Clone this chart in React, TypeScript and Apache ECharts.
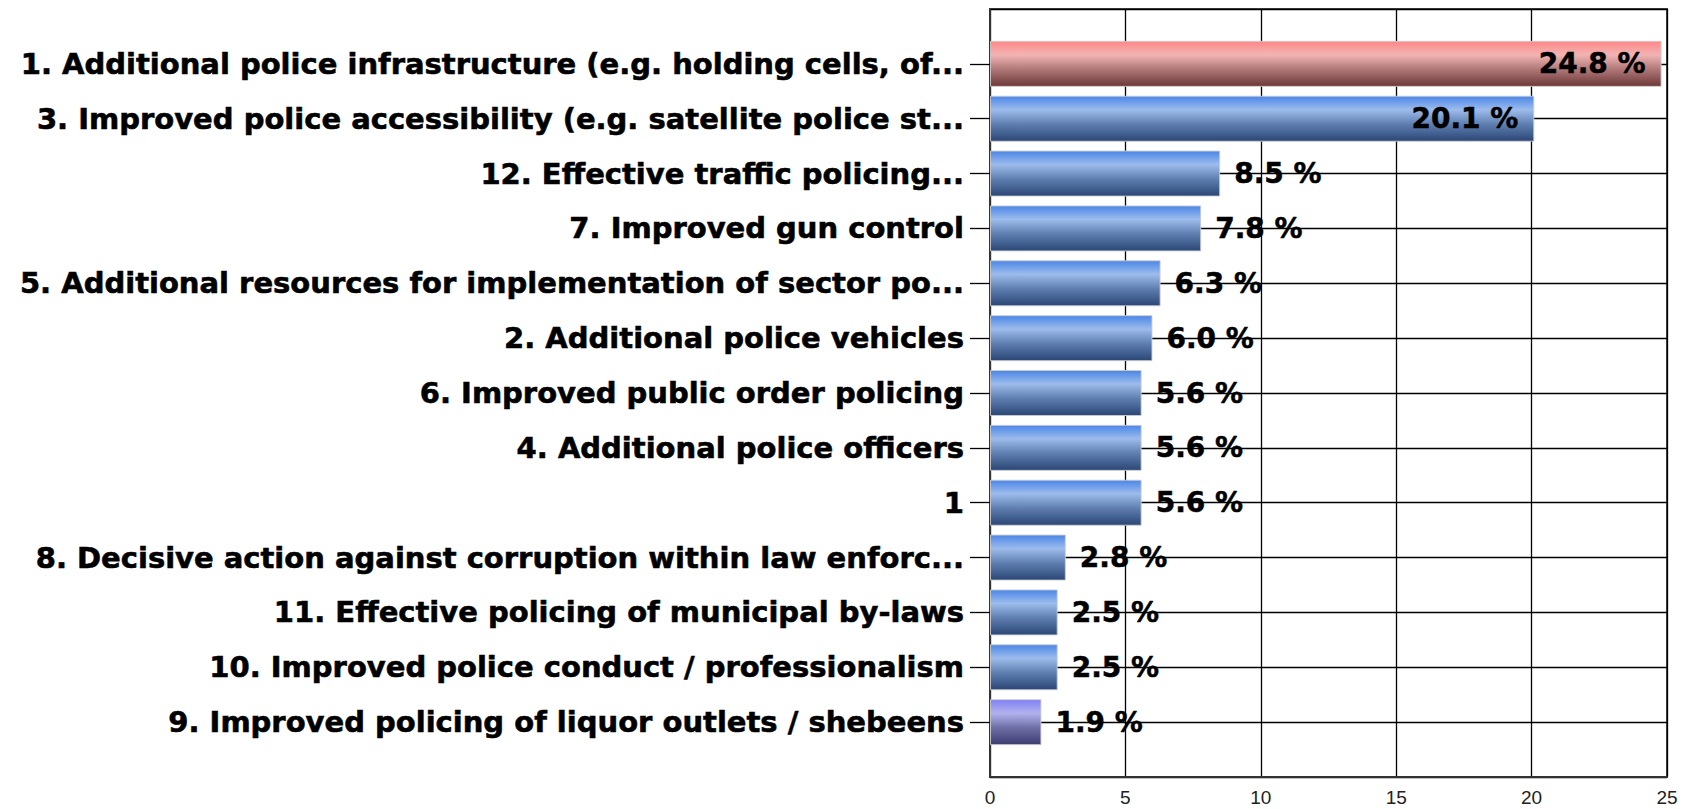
import React, { useEffect, useRef } from "react";
import * as echarts from "echarts";

const categories = [
  "1. Additional police infrastructure (e.g. holding cells, of...",
  "3. Improved police accessibility (e.g. satellite police st...",
  "12. Effective traffic policing...",
  "7. Improved gun control",
  "5. Additional resources for implementation of sector po...",
  "2. Additional police vehicles",
  "6. Improved public order policing",
  "4. Additional police officers",
  "1",
  "8. Decisive action against corruption within law enforc...",
  "11. Effective policing of municipal by-laws",
  "10. Improved police conduct / professionalism",
  "9. Improved policing of liquor outlets / shebeens",
];
const values = [24.8, 20.1, 8.5, 7.8, 6.3, 6.0, 5.6, 5.6, 5.6, 2.8, 2.5, 2.5, 1.9];
const insideLabelIdx = [0, 1];
const xMin = 0;
const xMax = 25;
const xInterval = 5;

const grad = (stops: string[]) =>
  new echarts.graphic.LinearGradient(0, 0, 0, 1, [
    { offset: 0, color: stops[0] },
    { offset: 0.3, color: stops[1] },
    { offset: 0.62, color: stops[2] },
    { offset: 1, color: stops[3] },
  ]);

const blue = ["#4a86e8", "#9dbcec", "#5f7fb0", "#2a4676"];
const red = ["#ff8888", "#f2b4b4", "#b07878", "#6e3838"];
const purple = ["#7f7ff5", "#b2b2ee", "#7070a8", "#3c3c70"];

const FONT = "'DejaVu Sans', Verdana, sans-serif";

export default function App() {
  const ref = useRef<HTMLDivElement>(null);
  useEffect(() => {
    if (!ref.current) return;
    const chart = echarts.init(ref.current, undefined, { renderer: "svg" });
    const cats = ["", ...categories, ""];
    const data: any[] = [null];
    values.forEach((v, i) => {
      const colors = i === 0 ? red : i === values.length - 1 ? purple : blue;
      const inside = insideLabelIdx.indexOf(i) >= 0;
      data.push({
        value: v,
        itemStyle: { color: grad(colors) },
        label: { position: inside ? "insideRight" : "right", distance: inside ? 16 : 14 },
      });
    });
    data.push(null);
    chart.setOption({
      animation: false,
      backgroundColor: "#ffffff",
      grid: {
        left: 990,
        right: 26,
        top: 9,
        bottom: 32,
        show: true,
        borderColor: "#444444",
        borderWidth: 2,
        containLabel: false,
      },
      xAxis: {
        type: "value",
        min: xMin,
        max: xMax,
        interval: xInterval,
        axisLine: { show: true, lineStyle: { color: "#333333", width: 2 } },
        axisTick: { show: false },
        axisLabel: {
          color: "#222222",
          fontSize: 19,
          margin: 11,
          fontFamily: "'Liberation Sans Narrow', 'Liberation Sans', Arial, sans-serif",
        },
        splitLine: { show: true, lineStyle: { color: "#000000", width: 1.3 } },
      },
      yAxis: {
        type: "category",
        data: cats,
        inverse: true,
        boundaryGap: false,
        axisLine: { show: true, lineStyle: { color: "#333333", width: 2 } },
        axisTick: {
          show: true,
          length: 20,
          interval: (idx: number, val: string) => val !== "",
          lineStyle: { color: "#000000", width: 1.3 },
        },
        axisLabel: {
          interval: 0,
          color: "#000000",
          fontSize: 29,
          fontWeight: "bold",
          fontFamily: FONT,
          margin: 26,
          textBorderColor: "#000000",
          textBorderWidth: 0.6,
        },
        splitLine: { show: true, interval: 0, lineStyle: { color: "#000000", width: 1.3 } },
      },
      series: [
        {
          type: "bar",
          data,
          barWidth: 46,
          itemStyle: { borderColor: "rgba(205,205,205,0.9)", borderWidth: 1 },
          label: {
            show: true,
            color: "#000000",
            fontSize: 28,
            fontWeight: "bold",
            fontFamily: FONT,
            textBorderColor: "#000000",
            textBorderWidth: 0.5,
            formatter: (p: any) => Number(p.value).toFixed(1) + " %",
          },
          z: 3,
        },
      ],
    });
    return () => chart.dispose();
  }, []);
  return (
    <div
      ref={ref}
      style={{ position: "fixed", left: 0, top: 0, width: 1693, height: 809, background: "#fff" }}
    />
  );
}
